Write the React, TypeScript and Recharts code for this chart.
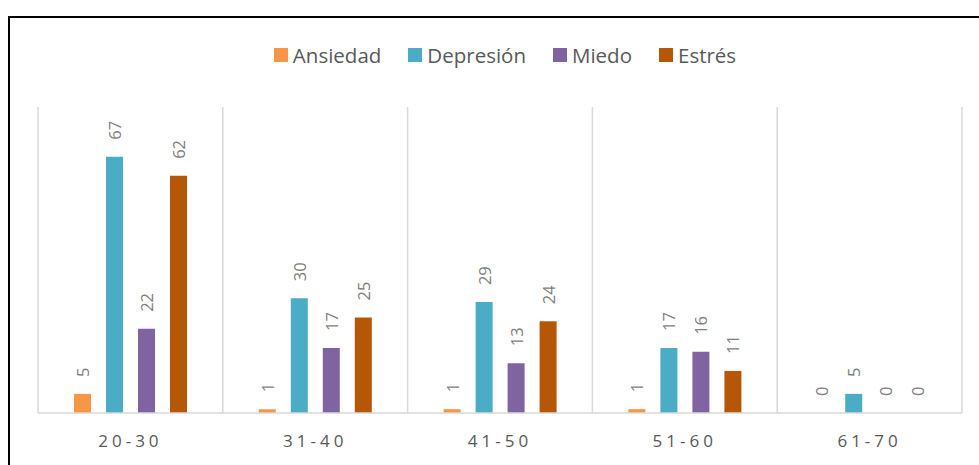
import { BarChart, Bar, XAxis, YAxis, CartesianGrid, Legend, Rectangle } from "recharts";

const grupos = ["20-30", "31-40", "41-50", "51-60", "61-70"];
const ansiedad = [5, 1, 1, 1, 0];
const depresion = [67, 30, 29, 17, 5];
const miedo = [22, 17, 13, 16, 0];
const estres = [62, 25, 24, 11, 0];

const SERIES = [
  { key: "ansiedad", name: "Ansiedad", color: "#F79646" },
  { key: "depresion", name: "Depresión", color: "#4BACC6" },
  { key: "miedo", name: "Miedo", color: "#8064A2" },
  { key: "estres", name: "Estrés", color: "#B65708" },
];

const data = grupos.map((g, i) => ({
  grupo: g,
  ansiedad: ansiedad[i],
  depresion: depresion[i],
  miedo: miedo[i],
  estres: estres[i],
}));

const FONT = "'Open Sans', 'DejaVu Sans', sans-serif";

const renderLegend = () => (
  <div
    style={{
      display: "flex",
      justifyContent: "center",
      alignItems: "center",
      gap: 27,
      height: 24,
      paddingLeft: 10,
      fontFamily: FONT,
      fontSize: 20.5,
      color: "#595959",
    }}
  >
    {SERIES.map((s) => (
      <span key={s.key} style={{ display: "flex", alignItems: "center" }}>
        <span style={{ width: 14, height: 14, background: s.color, marginRight: 5, display: "inline-block" }} />
        {s.name}
      </span>
    ))}
  </div>
);

// bar + rotated value label, drawn together so zero values still get a label
const barWithLabel = (dataKey: string) => (props: any) => {
  const { x, y, width, height, fill, payload } = props;
  const cx = x + width / 2;
  const cy = y - 17;
  return (
    <g>
      {height > 0 && <Rectangle x={x} y={y} width={width} height={height} fill={fill} />}
      <text
        x={cx}
        y={cy}
        transform={`rotate(-90, ${cx}, ${cy})`}
        textAnchor="start"
        dominantBaseline="central"
        fontFamily={FONT}
        fontSize={16.5}
        fill="#7f7f7f"
      >
        {payload[dataKey]}
      </text>
    </g>
  );
};

const boundaries = ({ offset }: any) => {
  const n = grupos.length;
  return Array.from({ length: n + 1 }, (_, i) => offset.left + (offset.width * i) / n);
};

export default function App() {
  return (
    <div
      style={{
        position: "absolute",
        left: 8,
        top: 16,
        width: 1000,
        height: 480,
        borderTop: "2px solid #000",
        borderLeft: "2px solid #000",
        background: "#fff",
      }}
    >
      <BarChart
        width={969}
        height={447}
        data={data}
        margin={{ top: 65, right: 17, left: 28, bottom: 22 }}
        barSize={17}
        barGap={15}
      >
        <CartesianGrid
          horizontal={false}
          vertical
          stroke="#d9d9d9"
          strokeWidth={1.5}
          verticalCoordinatesGenerator={boundaries}
        />
        <XAxis
          dataKey="grupo"
          height={30}
          axisLine={{ stroke: "#d9d9d9", strokeWidth: 1.5 }}
          tickLine={false}
          tickSize={0}
          tickMargin={22}
          tick={{ fontFamily: FONT, fontSize: 17, fill: "#595959", letterSpacing: 4 }}
        />
        <YAxis hide domain={[0, 80]} />
        <Legend verticalAlign="top" content={renderLegend} wrapperStyle={{ top: 25 }} />
        {SERIES.map((s) => (
          <Bar
            key={s.key}
            dataKey={s.key}
            name={s.name}
            fill={s.color}
            isAnimationActive={false}
            shape={barWithLabel(s.key)}
          />
        ))}
      </BarChart>
    </div>
  );
}
